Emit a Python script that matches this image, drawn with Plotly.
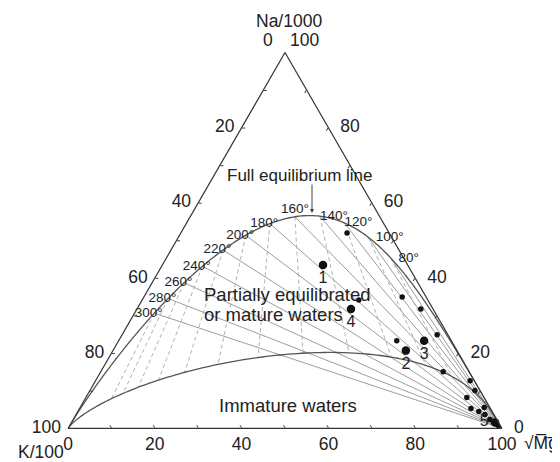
import numpy as np
import plotly.graph_objects as go

# ---------------- data ----------------
# isotherm temperatures (deg C) drawn on the full equilibrium line
iso_T = [80, 100, 120, 140, 160, 180, 200, 220, 240, 260, 280, 300]

# numbered samples (percent of Na/1000, K/100, sqrt(Mg))
num_na = [43.5, 20.7, 23.3, 31.8, 1.6]
num_k = [19.5, 11.8, 6.3, 18.9, 0.8]
num_mg = [37.0, 67.5, 70.4, 49.3, 97.6]
num_lab = ["1", "2", "3", "4", "5"]

# other samples
small_na = [52.0, 34.2, 35.0, 31.8, 23.3, 24.9, 15.1, 12.7, 10.1, 8.2, 5.3, 4.5, 5.6, 3.7, 2.4, 0.8]
small_k = [9.7, 15.9, 5.5, 2.8, 12.6, 2.5, 6.0, 1.0, 1.2, 4.0, 4.5, 3.1, 1.3, 2.1, 1.6, 0.5]
small_mg = [38.3, 49.9, 59.5, 65.4, 64.1, 72.6, 78.9, 86.3, 88.7, 87.8, 90.2, 92.4, 93.1, 94.2, 96.0, 98.7]

# ternary tick values and the labels printed at them
tick_vals = [0, 10, 20, 30, 40, 50, 60, 70, 80, 90, 100]
tick_text = ["100", "", "80", "", "60", "", "40", "", "20", "", "0"]

# maturity index of the immature-waters boundary as drawn
MI_IMMATURE = 1.95

FONT = "Liberation Sans, Arial, sans-serif"
TXT = "#222222"
NB = "\u00a0"

# page offset (the browser page adds an 8 px body margin)
OFF = 8
W, H = 560 - OFF, 462 - OFF


def px(X):
    return (X - OFF) / W


def py(Y):
    return 1 - (Y - OFF) / H


# ---------------- geothermometers (Giggenbach 1988) ----------------
def eq_components(Tc, mg_factor=1.0, na_override=None):
    Tk = np.asarray(Tc, dtype=float) + 273.15
    na = 10 ** (1390.0 / Tk - 1.75)          # Na for K = 1
    if na_override is not None:
        na = na_override
    k = np.ones_like(Tk)
    mg = 10 ** (4410.0 / Tk - 14.0)          # Mg for K = 1
    A = na / 1000.0
    B = k / 100.0
    C = np.sqrt(mg) * mg_factor
    S = A + B + C
    return 100 * A / S, 100 * B / S, 100 * C / S


def immature_na(Tc):
    # Na on the immature boundary at a given K-Mg temperature (K = 1)
    Tk = np.asarray(Tc, dtype=float) + 273.15
    L = 14.0 - 4410.0 / Tk                   # log(K^2/Mg)
    return 10 ** (MI_IMMATURE - 0.315 * L)


fig = go.Figure()

# Na-K isotherms: constant Na/K, from the sqrt(Mg) apex to the equilibrium line
for t in iso_T:
    a, b, c = eq_components(np.full(2, t), mg_factor=np.array([1.0, 1e9]))
    fig.add_trace(go.Scatterternary(a=a, b=b, c=c, mode="lines",
                                    line=dict(color="#929292", width=0.9),
                                    hoverinfo="skip", showlegend=False))

# K-Mg isotherms: constant K/sqrt(Mg), from the equilibrium line down to the immature line
for t in iso_T:
    Tk = t + 273.15
    na_vals = np.array([10 ** (1390.0 / Tk - 1.75), float(immature_na(t))])
    a, b, c = eq_components(np.full(2, t), na_override=na_vals)
    fig.add_trace(go.Scatterternary(a=a, b=b, c=c, mode="lines",
                                    line=dict(color="#a8a8a8", width=0.9, dash="4px,3px"),
                                    hoverinfo="skip", showlegend=False))

# full equilibrium line
T_curve = np.geomspace(150, 8000, 900) - 273.15
a, b, c = eq_components(T_curve)
fig.add_trace(go.Scatterternary(a=a, b=b, c=c, mode="lines",
                                line=dict(color="#555555", width=1.3),
                                hoverinfo="skip", showlegend=False))

# immature / partial equilibrium line
a, b, c = eq_components(T_curve, na_override=immature_na(T_curve))
fig.add_trace(go.Scatterternary(a=a, b=b, c=c, mode="lines",
                                line=dict(color="#555555", width=1.3),
                                hoverinfo="skip", showlegend=False))

# sample points
fig.add_trace(go.Scatterternary(a=small_na, b=small_k, c=small_mg, mode="markers",
                                marker=dict(color="#111111", size=5.5),
                                hoverinfo="skip", showlegend=False))
fig.add_trace(go.Scatterternary(a=num_na, b=num_k, c=num_mg, mode="markers+text",
                                marker=dict(color="#111111", size=8.5),
                                text=num_lab,
                                textposition=["bottom center"] * 4 + ["middle left"],
                                textfont=dict(family=FONT, size=16, color=TXT),
                                cliponaxis=False,
                                hoverinfo="skip", showlegend=False))

# temperature labels on the equilibrium line
a, b, c = eq_components(np.array(iso_T, dtype=float))
lab_text, lab_pos = [], []
for t in iso_T:
    if t <= 140:
        lab_text.append((NB * 2 if t <= 100 else "") + f"{t}°")
        lab_pos.append("middle right")
    elif t == 160:
        lab_text.append(f"{t}°")
        lab_pos.append("top center")
    else:
        lab_text.append(f"{t}°" + NB * 3)
        lab_pos.append("middle center")
fig.add_trace(go.Scatterternary(a=a, b=b, c=c, mode="text", text=lab_text,
                                textposition=lab_pos, cliponaxis=False,
                                textfont=dict(family=FONT, size=13.5, color=TXT),
                                hoverinfo="skip", showlegend=False))


def axis(ticktext):
    return dict(
        tickmode="array", tickvals=tick_vals, ticktext=ticktext,
        ticks="inside", ticklen=3, tickcolor="#444444",
        showgrid=False, showline=True, linecolor="#333333", linewidth=1.2,
        tickfont=dict(family=FONT, size=17.5, color=TXT),
        title=dict(text=""),
    )


# left edge: labels right-aligned -> a trailing space moves them outwards
a_text = [(t + NB) if t else t for t in tick_text]
a_text[-1] = ""                      # apex label drawn as annotation
b_text = list(tick_text)
# right edge: labels left-aligned -> leading spaces move them outwards
c_text = [(NB * 2 + t) if t else t for t in tick_text]
c_text[0] = ""                       # apex label drawn as annotation

tf = dict(family=FONT, size=17.5, color=TXT)
fig.update_layout(
    width=W, height=H,
    margin=dict(l=0, r=0, t=0, b=0),
    paper_bgcolor="white",
    font=dict(family=FONT, color=TXT),
    ternary=dict(
        sum=100,
        bgcolor="white",
        domain=dict(x=[px(68), px(502)], y=[py(429), py(52)]),
        aaxis=axis(a_text),
        baxis=axis(b_text),
        caxis=axis(c_text),
    ),
    annotations=[
        dict(text="Na/1000", x=px(289), y=py(21), font=tf),
        dict(text="0", x=px(268), y=py(40), font=tf),
        dict(text="100", x=px(304), y=py(40), font=tf),
        dict(text="K/100", x=px(41), y=py(452), font=tf),
        dict(text="√M\u0305g\u0305", x=px(541), y=py(443), font=tf),
        dict(text="Full equilibrium line", x=px(300), y=py(175),
             font=dict(family=FONT, size=17, color=TXT)),
        dict(text="", x=px(312), y=py(213), showarrow=True, ax=0, ay=-30,
             arrowhead=2, arrowsize=0.8, arrowwidth=1, arrowcolor="#444444"),
        dict(text="Partially equilibrated", x=px(202), y=py(294), xanchor="left",
             font=dict(family=FONT, size=18.5, color=TXT)),
        dict(text="or mature waters", x=px(202), y=py(314), xanchor="left",
             font=dict(family=FONT, size=18.5, color=TXT)),
        dict(text="Immature waters", x=px(288), y=py(405),
             font=dict(family=FONT, size=18.5, color=TXT)),
    ],
)
for ann in fig.layout.annotations:
    ann.xref = "paper"
    ann.yref = "paper"
    if not ann.showarrow:
        ann.showarrow = False
    ann.yanchor = "middle"
    if ann.xanchor is None:
        ann.xanchor = "center"

fig.write_html("out.html")
